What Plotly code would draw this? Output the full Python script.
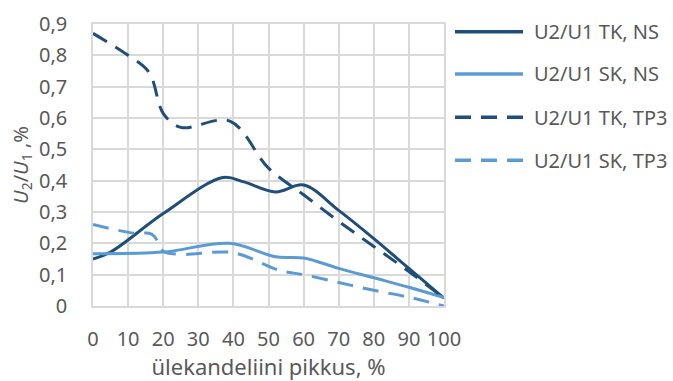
import plotly.graph_objects as go

# Series data: relative length of the transition line (%) vs U2/U1 (%)
x_tk_ns = [0, 5, 20, 37, 43, 52, 60, 70, 80, 90, 100]
y_tk_ns = [0.15, 0.172, 0.295, 0.41, 0.396, 0.364, 0.386, 0.305, 0.215, 0.12, 0.025]

x_sk_ns = [0, 20, 39, 52, 60, 70, 80, 90, 100]
y_sk_ns = [0.167, 0.172, 0.2, 0.157, 0.153, 0.12, 0.09, 0.06, 0.027]

x_tk_tp3 = [0, 10, 16, 20, 25, 39, 50, 60, 70, 80, 90, 100]
y_tk_tp3 = [0.87, 0.80, 0.745, 0.615, 0.57, 0.59, 0.44, 0.355, 0.27, 0.19, 0.11, 0.025]

x_sk_tp3 = [0, 12, 16, 17.5, 20, 25, 40, 53, 60, 70, 80, 90, 100]
y_sk_tp3 = [0.26, 0.232, 0.232, 0.222, 0.175, 0.165, 0.17, 0.114, 0.1, 0.075, 0.05, 0.028, 0.0]

series_names = ["U2/U1 TK, NS", "U2/U1 SK, NS", "U2/U1 TK, TP3", "U2/U1 SK, TP3"]

x_tick_vals = [0, 10, 20, 30, 40, 50, 60, 70, 80, 90, 100]
y_tick_vals = [0, 0.1, 0.2, 0.3, 0.4, 0.5, 0.6, 0.7, 0.8, 0.9]
y_tick_text = ["0", "0,1", "0,2", "0,3", "0,4", "0,5", "0,6", "0,7", "0,8", "0,9"]

DARK = "#1F4E79"
LIGHT = "#5B9BD5"
GRID = "#D9D9D9"
TEXT = "#595959"
FONT = "Noto Sans"
DASH = "16px,10px"

series = [
    (x_tk_ns, y_tk_ns, DARK, "solid"),
    (x_sk_ns, y_sk_ns, LIGHT, "solid"),
    (x_tk_tp3, y_tk_tp3, DARK, DASH),
    (x_sk_tp3, y_sk_tp3, LIGHT, DASH),
]

fig = go.Figure()
for name, (xs, ys, color, dash) in zip(series_names, series):
    fig.add_trace(go.Scatter(
        x=xs, y=ys, name=name, mode="lines",
        line=dict(color=color, width=3, dash=dash, shape="spline", smoothing=1),
        showlegend=False,
    ))

# Legend drawn beside the plot with long sample lines
shapes = []
annotations = []
legend_rows = [0.9727, 0.8227, 0.6691, 0.5167]
for name, (xs, ys, color, dash), ly in zip(series_names, series, legend_rows):
    shapes.append(dict(type="line", xref="paper", yref="paper",
                       x0=1.0313, x1=1.2251, y0=ly, y1=ly,
                       line=dict(color=color, width=3.5, dash=dash)))
    annotations.append(dict(xref="paper", yref="paper", x=1.2507, y=ly,
                            xanchor="left", yanchor="middle", showarrow=False,
                            text=name, font=dict(family=FONT, size=20, color=TEXT)))

fig.update_layout(
    width=673, height=381,
    margin=dict(l=93, r=229, t=24, b=75),
    paper_bgcolor="white", plot_bgcolor="white",
    font=dict(family=FONT, size=20, color=TEXT),
    shapes=shapes, annotations=annotations,
    xaxis=dict(
        range=[0, 100], tickvals=x_tick_vals, ticks="", showgrid=True,
        gridcolor=GRID, gridwidth=1.5, zeroline=False, automargin=False,
        showline=True, linecolor=GRID, linewidth=1.5, mirror=True,
        tickfont=dict(family=FONT, size=20, color=TEXT), ticklabelstandoff=14,
        title=dict(text="ülekandeliini pikkus, %", standoff=14,
                   font=dict(family=FONT, size=22, color=TEXT)),
    ),
    yaxis=dict(
        range=[0, 0.9], tickvals=y_tick_vals, ticktext=y_tick_text, ticks="",
        showgrid=True, gridcolor=GRID, gridwidth=1.5, zeroline=False, automargin=False,
        showline=True, linecolor=GRID, linewidth=1.5, mirror=True,
        tickfont=dict(family=FONT, size=20, color=TEXT), ticklabelstandoff=20,
        title=dict(text="<i>U</i><sub>2</sub>/<i>U</i><sub>1</sub> ,%", standoff=5,
                   font=dict(family=FONT, size=20, color=TEXT)),
    ),
)

fig.write_html("out.html")
